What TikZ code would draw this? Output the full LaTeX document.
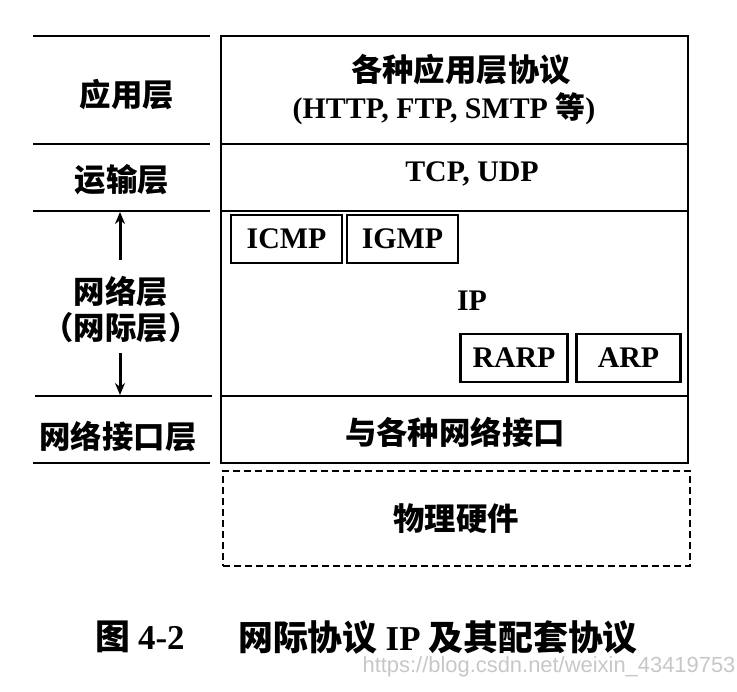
\documentclass[tikz,border=0pt]{standalone}
\usepackage{fontspec}
\setmainfont{Liberation Serif}
\setsansfont{Liberation Sans}
\newfontfamily\cjk{Noto Sans CJK SC}
\usetikzlibrary{arrows.meta}

\begin{document}
\begin{tikzpicture}[x=1bp,y=-1bp,line width=2.6bp,
    layer/.style={draw, rectangle, minimum width=467bp, inner sep=0pt},
    proto/.style={draw, rectangle, line width=2.2bp, minimum height=48bp, inner sep=0pt,
        font=\bfseries\fontsize{30}{30}\selectfont},
    zh/.style={inner sep=0pt, font=\cjk\bfseries\fontsize{31.5}{31.5}\selectfont},
    lat/.style={inner sep=0pt, font=\bfseries\fontsize{30}{30}\selectfont},
    captext/.style={inner sep=0pt, font=\cjk\bfseries\fontsize{35}{35}\selectfont},
    arr/.style={line width=3bp, -{Stealth[length=12bp,width=10bp]}}]
    \useasboundingbox (0,0) rectangle (737,692);

    % stack of layers on the right
    \node[layer, minimum height=108bp] (app) at (454.5,90) {};
    \node[layer, minimum height=67bp] (tran) at (454.5,177.5) {};
    \node[layer, minimum height=185bp] (net) at (454.5,303.5) {};
    \node[layer, minimum height=67bp] (link) at (454.5,429.5) {};
    \node[layer, dash pattern=on 7bp off 4bp, minimum height=95bp] (phys) at (456.5,518.5) {};

    \node[zh] (appzh) at (461,70) {各种应用层协议};
    \node[lat] (appen) at (444,109) {(HTTP, FTP, SMTP {\cjk 等})};
    \node[lat] (tcp) at (472,174) {TCP, UDP};

    \node[proto, minimum width=111bp] (icmp) at (286.5,239) {ICMP};
    \node[proto, minimum width=111bp] (igmp) at (402.5,239) {IGMP};
    \node[lat] (ip) at (472,301) {IP};
    \node[proto, minimum width=107bp] (rarp) at (514,358) {RARP};
    \node[proto, minimum width=104bp] (arp) at (628.5,358) {ARP};

    \node[zh] (ifzh) at (455,432) {与各种网络接口};
    \node[zh] (hwzh) at (456,519) {物理硬件};

    % names on the left
    \draw (33,36) -- (210,36);
    \draw (33,144) -- (210,144);
    \draw (33,211) -- (210,211);
    \draw (35,396) -- (212,396);
    \draw (33,463) -- (210,463);

    \node[zh] (lapp) at (127,95) {应用层};
    \node[zh] (ltran) at (122,180) {运输层};
    \node[zh] (lnet) at (121,292) {网络层};
    \node[zh] (lnetb) at (121,328) {（网际层）};
    \node[zh] (llink) at (118,437) {网络接口层};

    \coordinate (nup) at (120,260);
    \coordinate (ntop) at (120,212);
    \coordinate (ndown) at (120,353);
    \coordinate (nbot) at (120,395);
    \draw[arr] (nup) -- (ntop);
    \draw[arr] (ndown) -- (nbot);

    % caption
    \node[captext] (capnum) at (140,637) {图 {\rmfamily 4-2}};
    \node[captext] (captxt) at (438,637) {网际协议 {\rmfamily IP} 及其配套协议};
    \node[inner sep=0pt, text=black!22, font=\sffamily\fontsize{22}{22}\selectfont] (mark) at (549,667) {https://blog.csdn.net/weixin\_43419753};
\end{tikzpicture}
\end{document}
